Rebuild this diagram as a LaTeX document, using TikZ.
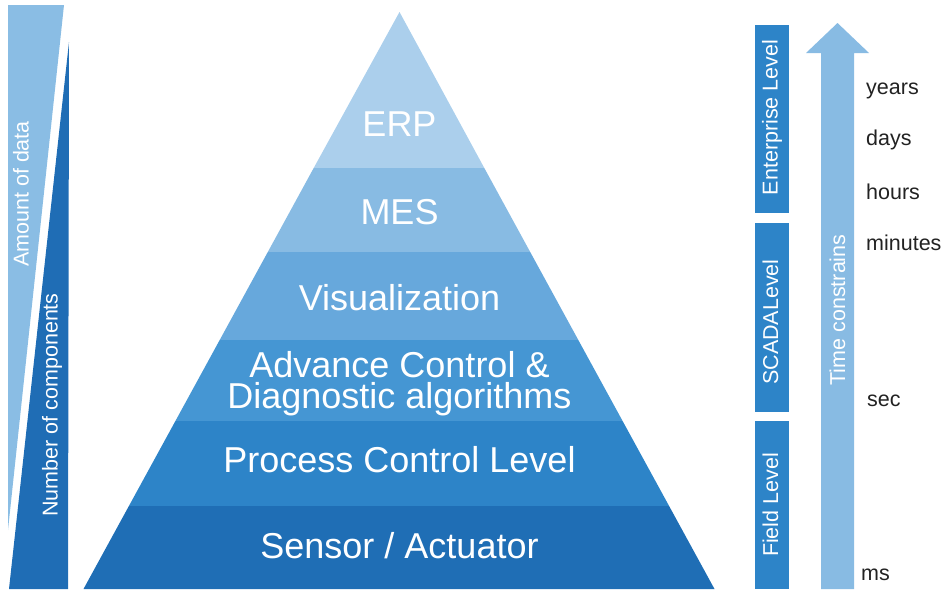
\documentclass[tikz,border=0pt]{standalone}
\usepackage{fontspec}
\setmainfont{Liberation Sans}
\definecolor{cERP}{HTML}{ABCFEC}
\definecolor{cMES}{HTML}{88BBE3}
\definecolor{cVis}{HTML}{67A8DC}
\definecolor{cAdv}{HTML}{4596D3}
\definecolor{cProc}{HTML}{2D84C8}
\definecolor{cSens}{HTML}{1F6EB5}
\definecolor{cLight}{HTML}{8ABDE4}
\definecolor{cDark}{HTML}{1F6DB5}
\definecolor{cBar}{HTML}{2D84C8}
\definecolor{cArrow}{HTML}{88BBE3}
\definecolor{cTxt}{HTML}{222222}
\begin{document}
\begin{tikzpicture}[x=1pt,y=-1pt,
  pyrtext/.style={text=white,font=\fontsize{36}{31}\selectfont,anchor=base,inner sep=0pt},
  sidetext/.style={text=white,font=\fontsize{21.5}{24}\selectfont,anchor=base,rotate=90,inner sep=0pt},
  timetext/.style={text=cTxt,font=\fontsize{21.5}{24}\selectfont,anchor=base west,inner sep=0pt}]
\useasboundingbox (0,0) rectangle (944,589);
% left wedges
\fill[cLight] (8,5) -- (64,5) -- (8,530) -- cycle;
\fill[cDark] (69,42) -- (68,589) -- (9,589) -- cycle;
\node[sidetext] (amount) at (28.5,194) {Amount of data};
\node[sidetext] (number) at (57.5,405) {Number of components};
% pyramid bands
\fill[cERP]  (399.5,12) -- (484.3,168) -- (313.7,168) -- cycle;
\fill[cMES]  (313.7,168) -- (484.3,168) -- (530.2,252) -- (267.8,252) -- cycle;
\fill[cVis]  (267.8,252) -- (530.2,252) -- (578.3,340) -- (219.7,340) -- cycle;
\fill[cAdv]  (219.7,340) -- (578.3,340) -- (622.6,421) -- (175.4,421) -- cycle;
\fill[cProc] (175.4,421) -- (622.6,421) -- (669.1,506) -- (128.9,506) -- cycle;
\fill[cSens] (128.9,506) -- (669.1,506) -- (714.5,589) -- (83.5,589) -- cycle;
\node[pyrtext] (erp) at (399.5,136.5) {ERP};
\node[pyrtext] (mes) at (399.5,224) {MES};
\node[pyrtext] (vis) at (399.5,310) {Visualization};
\node[pyrtext,anchor=center,align=center] (adv) at (399.5,383.2) {Advance Control \&\\Diagnostic algorithms};
\node[pyrtext] (proc) at (399.5,472.5) {Process Control Level};
\node[pyrtext] (sens) at (399.5,558) {Sensor / Actuator};
% right level bars
\fill[cBar] (755,25) rectangle (789,213);
\fill[cBar] (755,223) rectangle (789,412);
\fill[cBar] (755,421) rectangle (789,589);
\node[sidetext] (ent) at (777.5,117.5) {Enterprise Level};
\node[sidetext] (scada) at (778,322) {SCADALevel};
\node[sidetext] (field) at (778,505) {Field Level};
% time arrow
\fill[cArrow] (821,589) -- (821,53) -- (806,53) -- (837.5,23) -- (869,53) -- (854,53) -- (854,589) -- cycle;
\node[sidetext] (time) at (845,310) {Time constrains};
% time labels
\node[timetext] (years) at (866,94) {years};
\node[timetext] (days) at (866,145.5) {days};
\node[timetext] (hours) at (866,199) {hours};
\node[timetext] (minutes) at (866,250.5) {minutes};
\node[timetext] (sec) at (867,406.5) {sec};
\node[timetext] (ms) at (861,580) {ms};
\end{tikzpicture}
\end{document}
